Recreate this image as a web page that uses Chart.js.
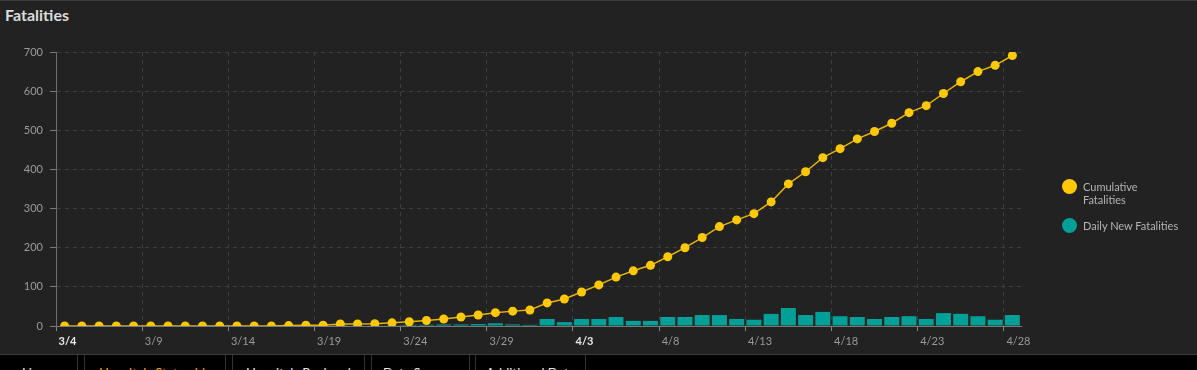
<!DOCTYPE html>
<html>
<head>
<meta charset="utf-8">
<script src="https://cdn.jsdelivr.net/npm/chart.js@4.4.1/dist/chart.umd.min.js"></script>
<style>
  html, body { margin: 0; padding: 0; background: #222222; }
  #wrap { position: relative; width: 1197px; height: 370px; background: #222222; overflow: hidden; font-family: Lato, "Noto Sans", sans-serif; }
  #topline { position: absolute; left: 0; top: 0; width: 1197px; height: 1px; background: #3c3c3c; }
  #title { position: absolute; left: 5px; top: 7px; font: bold 16px Lato, "Noto Sans", sans-serif; line-height: 16px; color: #dcdcdc; }
  #chart { position: absolute; left: 0; top: 0; }
  .lg { position: absolute; left: 1062px; font-size: 11px; line-height: 13px; color: #b4b4b4; }
  .lg .dot { position: absolute; left: 0; width: 15px; height: 15px; border-radius: 50%; }
  .lg .txt { position: absolute; left: 21px; white-space: nowrap; }
  #tabs { position: absolute; left: 0; top: 354px; width: 1197px; height: 16px; background: #000; border-top: 1px solid #3a3a3a; }
  .tab { position: absolute; top: 0; height: 16px; border-left: 1px solid #333; border-right: 1px solid #333; font-size: 13px; color: #e6e6e6; overflow: hidden; }
  .tab span { position: absolute; top: 10px; white-space: nowrap; }
</style>
</head>
<body>
<div id="wrap">
  <div id="topline"></div>
  <div id="title">Fatalities</div>
  <canvas id="chart" width="1197" height="354"></canvas>
  <div id="legend"></div>
  <div id="tabs"></div>
</div>
<script>
const dates = [
  "3/4","3/5","3/6","3/7","3/8","3/9","3/10","3/11","3/12","3/13","3/14","3/15","3/16","3/17","3/18","3/19",
  "3/20","3/21","3/22","3/23","3/24","3/25","3/26","3/27","3/28","3/29","3/30","3/31",
  "4/1","4/2","4/3","4/4","4/5","4/6","4/7","4/8","4/9","4/10","4/11","4/12","4/13","4/14","4/15","4/16",
  "4/17","4/18","4/19","4/20","4/21","4/22","4/23","4/24","4/25","4/26","4/27","4/28"
];
const cumulativeFatalities = [
  0,0,0,0,0,0,0,0,0,0,0,0,0,1,2,2,
  5,5,6,8,11,14,18,23,28,34,38,41,
  59,69,87,105,125,141,155,177,200,226,254,271,287,317,363,394,
  430,453,478,497,518,545,563,594,624,650,666,691
];
const dailyNewFatalities = [
  0,0,0,0,0,0,0,0,0,0,0,0,0,1,1,0,
  3,0,1,2,3,3,4,4,5,7,4,3,
  18,10,18,18,23,13,13,23,23,28,28,18,16,31,46,28,
  36,25,23,18,23,25,18,33,31,25,16,28
];
const yTicks = [0,100,200,300,400,500,600,700];
const boldLabels = ["3/4","4/3"];
const tabNames = ["Line","Hospitals Statewide","Hospitals Regional","Data Sources","Additional Data"];

const GOLD = "#ffc800";
const GOLD_LINE = "#e8b400";
const TEAL = "#009f98";
const FONT = "Lato, 'Noto Sans', sans-serif";

const ctx = document.getElementById("chart").getContext("2d");
const chart = new Chart(ctx, {
  data: {
    labels: dates,
    datasets: [
      {
        type: "line",
        label: "Cumulative Fatalities",
        legendLines: ["Cumulative", "Fatalities"],
        data: cumulativeFatalities,
        borderColor: GOLD_LINE,
        borderWidth: 1.5,
        backgroundColor: GOLD,
        pointBackgroundColor: GOLD,
        pointBorderWidth: 0,
        pointRadius: 4.5,
        tension: 0,
        order: 0
      },
      {
        type: "bar",
        label: "Daily New Fatalities",
        legendLines: ["Daily New Fatalities"],
        data: dailyNewFatalities,
        backgroundColor: TEAL,
        borderWidth: 0,
        barPercentage: 0.87,
        categoryPercentage: 1.0,
        order: 1
      }
    ]
  },
  options: {
    responsive: false,
    animation: false,
    layout: { padding: { left: 0, right: 176, top: 52, bottom: 0 } },
    plugins: { legend: { display: false }, tooltip: { enabled: false }, title: { display: false } },
    scales: {
      x: {
        type: "category",
        offset: true,
        afterFit: (s) => { s.height = 28; },
        grid: {
          offset: true,
          drawTicks: true,
          tickLength: 5,
          lineWidth: 1,
          color: (c) => (c.index % 5 === 0 ? "#3d3d3d" : "rgba(0,0,0,0)"),
          tickColor: (c) => (c.index % 5 === 0 ? "#8a8a8a" : "rgba(0,0,0,0)")
        },
        border: { display: true, color: "#7a7a7a", width: 1, dash: [4, 4] },
        ticks: {
          autoSkip: false,
          maxRotation: 0,
          minRotation: 0,
          align: "start",
          labelOffset: -6,
          padding: 4,
          callback: function (v, i) { return i % 5 === 0 ? dates[i] : ""; },
          color: (c) => (c.tick && boldLabels.includes(c.tick.label) ? "#e8e8e8" : "#9a9a9a"),
          font: (c) => ({ family: FONT, size: 11, weight: c.tick && boldLabels.includes(c.tick.label) ? "bold" : "normal" })
        }
      },
      y: {
        min: 0,
        max: 700,
        afterFit: (s) => { s.width = 56; },
        afterBuildTicks: (s) => { s.ticks = yTicks.map((v) => ({ value: v })); },
        grid: {
          drawTicks: true,
          tickLength: 6,
          color: "#3d3d3d",
          tickColor: "#7a7a7a",
          lineWidth: 1
        },
        border: { display: true, color: "#6e6e6e", width: 1, dash: [4, 4] },
        ticks: {
          padding: 7,
          color: "#9c9c9c",
          font: { family: FONT, size: 11 }
        }
      }
    }
  }
});

// HTML legend built from datasets
const legend = document.getElementById("legend");
const legendTops = [179, 218];
chart.data.datasets.forEach((ds, i) => {
  const d = document.createElement("div");
  d.className = "lg";
  d.style.top = legendTops[i] + "px";
  const dot = document.createElement("div");
  dot.className = "dot";
  dot.style.background = ds.backgroundColor;
  dot.style.top = "0px";
  const t = document.createElement("div");
  t.className = "txt";
  t.style.top = "1px";
  t.innerHTML = ds.legendLines.join("<br>");
  d.appendChild(dot);
  d.appendChild(t);
  legend.appendChild(d);
});

// bottom tab bar (cut off)
const tabs = document.getElementById("tabs");
const tabBoxes = [[-10, 78], [84, 226], [232, 365], [371, 470], [475, 586]];
const tabColors = ["#e6e6e6", "#f0a500", "#e6e6e6", "#e6e6e6", "#e6e6e6"];
tabNames.forEach((name, i) => {
  const t = document.createElement("div");
  t.className = "tab";
  t.style.left = tabBoxes[i][0] + "px";
  t.style.width = (tabBoxes[i][1] - tabBoxes[i][0] - 2) + "px";
  const s = document.createElement("span");
  s.textContent = name;
  s.style.color = tabColors[i];
  t.appendChild(s);
  tabs.appendChild(t);
  const w = s.offsetWidth;
  s.style.left = Math.round((tabBoxes[i][1] - tabBoxes[i][0] - 2 - w) / 2) + "px";
});
</script>
</body>
</html>
